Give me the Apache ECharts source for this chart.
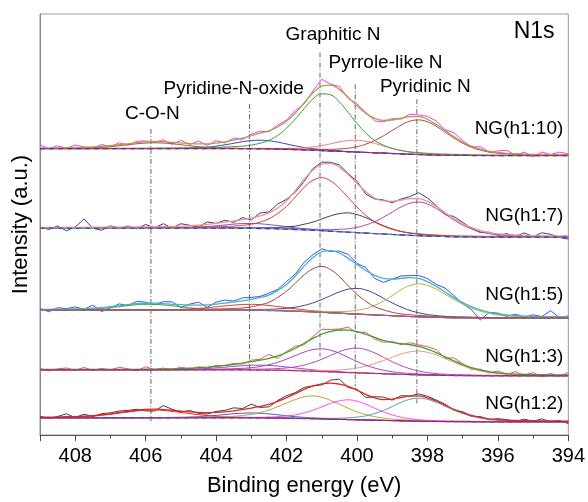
<!DOCTYPE html>
<html><head><meta charset="utf-8">
<script src="https://cdn.jsdelivr.net/npm/echarts/dist/echarts.min.js"></script>
<style>html,body{margin:0;padding:0;background:#fff}#c{width:588px;height:502px}</style>
</head><body><div id="c"></div>
<script>
// Binding energy grid (eV)
const energies = [409,408.75,408.5,408.25,408,407.75,407.5,407.25,407,406.75,406.5,406.25,406,405.75,405.5,405.25,405,404.75,404.5,404.25,404,403.75,403.5,403.25,403,402.75,402.5,402.25,402,401.75,401.5,401.25,401,400.75,400.5,400.25,400,399.75,399.5,399.25,399,398.75,398.5,398.25,398,397.75,397.5,397.25,397,396.75,396.5,396.25,396,395.75,395.5,395.25,395,394.75,394.5,394.25,394];

// ---- NG(h1:10) ----
const rawA = [10.7,7.2,9.8,7.5,10.6,8.9,7.3,11.3,9.0,13.0,10.5,14.6,14.9,13.3,16.1,11.5,15.4,11.2,14.8,10.3,15.1,12.9,17.7,16.3,21.7,24.7,24.1,30.9,35.9,45.6,52.2,65.5,77.1,72.2,69.9,57.8,52.3,43.8,35.1,34.1,37.5,36.8,41.9,41.0,39.7,35.0,26.4,23.2,15.3,8.6,9.1,3.5,4.8,5.4,0.4,3.6,-1.2,3.7,1.1,3.5,1.9];
const envA = [7.7,7.7,7.8,8.0,8.1,8.4,8.8,9.3,10.0,11.0,12.0,13.1,13.9,14.3,14.1,13.5,12.9,12.2,11.8,11.8,12.6,13.9,15.7,17.8,20.2,22.7,25.1,28.9,34.9,43.1,53.2,63.5,70.1,71.2,66.9,58.8,50.3,42.8,37.6,35.6,36.0,37.8,39.4,39.5,36.7,31.5,25.4,19.2,13.8,9.6,6.6,4.5,3.3,2.4,1.9,1.6,1.3,1.2,1.1,1.0,0.9];
const bgA = [7,7,7,7,7,7,7,7,7,7,7,7,7,7,7,7,7,7,7,7,7,7,7,6.9,6.9,6.8,6.7,6.5,6.3,6.0,5.7,5.4,5.0,4.6,4.3,3.9,3.5,3.2,2.8,2.5,2.1,1.8,1.4,1.1,0.8,0.6,0.4,0.3,0.2,0.1,0.1,0,0,0,0,0,0,0,0,0,0];
const graphA = [7.3,7.3,7.3,7.3,7.4,7.4,7.4,7.4,7.5,7.5,7.5,7.6,7.6,7.7,7.7,7.8,7.9,8.0,8.1,8.2,8.4,8.7,9.1,9.6,10.7,12.6,15.4,20.4,27.8,37.0,47.5,57.3,62.4,61.4,54.3,43.6,32.5,22.9,15.4,10.6,7.3,5.3,3.8,3.1,2.4,1.9,1.6,1.3,1.1,0.9,0.8,0.7,0.6,0.6,0.5,0.5,0.4,0.4,0.4,0.4,0.3];
const pyridA = [7.1,7.1,7.1,7.1,7.1,7.1,7.2,7.2,7.2,7.2,7.2,7.2,7.2,7.2,7.2,7.2,7.3,7.3,7.3,7.3,7.3,7.3,7.4,7.3,7.3,7.3,7.3,7.1,7.0,6.8,6.6,6.5,6.4,6.4,6.8,7.5,9.0,11.6,15.2,20.0,25.4,30.8,34.8,36.1,34.2,29.6,23.7,17.8,12.6,8.5,5.6,3.6,2.5,1.8,1.4,1.1,0.9,0.8,0.7,0.7,0.6];
const pyrrA = [7.1,7.1,7.1,7.1,7.1,7.1,7.1,7.1,7.1,7.1,7.1,7.1,7.1,7.1,7.1,7.1,7.2,7.2,7.2,7.2,7.2,7.2,7.2,7.2,7.2,7.2,7.2,7.1,7.2,7.4,7.9,8.9,10.2,11.9,13.9,15.2,15.5,14.5,12.4,9.8,7.3,5.3,3.6,2.5,1.7,1.2,0.9,0.7,0.5,0.4,0.4,0.3,0.3,0.2,0.2,0.2,0.2,0.1,0.1,0.1,0.1];
const oxA = [7.1,7.1,7.1,7.1,7.1,7.1,7.1,7.1,7.1,7.1,7.1,7.1,7.1,7.2,7.3,7.3,7.5,7.7,8.1,8.6,9.6,10.9,12.5,14.1,15.2,15.6,15.0,13.7,11.8,9.9,8.3,7.0,6.1,5.3,4.8,4.2,3.8,3.4,3.0,2.7,2.3,1.9,1.5,1.2,0.9,0.7,0.5,0.4,0.3,0.2,0.2,0.1,0.1,0.1,0.1,0.1,0.1,0.1,0.1,0.1,0.1];
const conA = [7.2,7.2,7.2,7.3,7.4,7.6,7.9,8.4,9.1,10.0,11.0,12.0,12.7,13.0,12.7,12.0,11.0,10.0,9.1,8.4,7.9,7.6,7.4,7.2,7.1,7.0,6.9,6.6,6.4,6.1,5.8,5.5,5.1,4.7,4.4,4.0,3.6,3.3,2.9,2.6,2.2,1.9,1.5,1.2,0.9,0.7,0.5,0.4,0.3,0.2,0.2,0.1,0.1,0.1,0.1,0.1,0.1,0.1,0.1,0.1,0.1];

// ---- NG(h1:7) ----
const rawB = [10.3,7.8,11.4,6.4,10.4,18.4,9.0,7.0,11.5,9.1,11.2,8.3,12.9,9.5,13.6,9.3,13.6,12.0,10.1,15.4,13.9,17.1,14.9,19.8,17.4,24.4,25.5,33.5,38.2,45.4,56.3,69.2,75.8,75.6,73.0,64.2,56.4,43.5,38.6,37.6,34.7,38.5,41.0,44.9,39.6,32.1,22.9,20.9,15.1,8.7,4.7,5.1,1.8,3.6,0.7,4.3,0.6,4.4,2.9,-0.3,-1.9];
const envB = [9.8,9.8,9.9,9.9,9.9,9.9,10.0,10.0,10.0,10.1,10.2,10.3,10.4,10.5,10.6,10.8,11.1,11.5,12.1,12.9,13.9,15.1,16.4,17.8,19.4,21.4,24.5,29.5,36.7,46.9,58.3,67.7,73.8,74.6,70.5,63.2,54.4,46.0,39.6,36.6,36.2,37.5,39.0,38.9,36.1,31.1,24.9,18.9,13.6,9.7,6.7,4.6,3.3,2.6,2.2,1.8,1.6,1.4,1.4,1.2,1.2];
const bgB = [9,9,9,9,9,9,9,9,9,9,9,9,9,9,9,9,9,9,9,9,9,9,9,8.9,8.8,8.7,8.6,8.4,8.1,7.7,7.4,6.9,6.5,5.9,5.5,5.0,4.5,4.1,3.6,3.2,2.7,2.3,1.8,1.5,1.1,0.8,0.6,0.4,0.3,0.2,0.1,0,0,0,0,0,0,0,0,0,0];
const graphB = [9.4,9.4,9.4,9.4,9.4,9.4,9.4,9.4,9.5,9.5,9.5,9.5,9.6,9.7,9.7,9.8,9.9,10.0,10.1,10.3,10.5,10.8,11.2,11.9,13.1,15.2,18.6,23.9,31.1,40.7,50.4,57.4,60.0,56.9,49.5,40.0,30.5,22.1,15.6,11.2,7.9,5.8,4.3,3.4,2.7,2.2,1.7,1.4,1.2,1.1,0.9,0.8,0.8,0.7,0.7,0.6,0.6,0.6,0.5,0.5,0.5];
const pyrrB = [9.1,9.1,9.1,9.1,9.1,9.1,9.1,9.1,9.1,9.1,9.2,9.2,9.2,9.2,9.2,9.2,9.2,9.3,9.3,9.3,9.3,9.4,9.5,9.4,9.4,9.5,9.6,9.9,10.4,11.2,13.1,15.3,18.4,21.5,23.8,24.5,22.8,19.7,15.5,11.6,8.4,5.8,4.1,3.0,2.1,1.6,1.2,0.9,0.7,0.6,0.5,0.4,0.3,0.3,0.3,0.2,0.2,0.2,0.2,0.2,0.2];
const pyridB = [9.3,9.3,9.3,9.3,9.3,9.3,9.3,9.3,9.4,9.4,9.4,9.4,9.4,9.4,9.4,9.4,9.5,9.5,9.5,9.5,9.6,9.6,9.6,9.5,9.5,9.4,9.3,9.2,9.0,8.6,8.4,8.0,7.9,7.6,7.9,8.5,9.9,12.3,15.6,20.2,25.3,30.5,34.2,35.5,33.5,29.0,23.2,17.4,12.3,8.4,5.5,3.5,2.4,1.7,1.4,1.1,0.9,0.8,0.7,0.7,0.6];
const oxB = [9.1,9.1,9.1,9.1,9.1,9.1,9.1,9.1,9.1,9.1,9.1,9.1,9.2,9.2,9.3,9.4,9.5,9.8,10.2,10.8,11.5,12.3,13.2,13.7,13.8,13.5,12.7,11.7,10.6,9.5,8.6,7.7,7.0,6.3,5.8,5.2,4.7,4.2,3.7,3.3,2.8,2.4,1.9,1.6,1.2,0.9,0.7,0.5,0.4,0.3,0.2,0.1,0.1,0.1,0.1,0.1,0.1,0.1,0.1,0.1,0.1];

// ---- NG(h1:5) ----
const rawC = [9.8,6.4,10.5,9.6,11.3,9.0,13.0,6.6,10.5,14.4,12.6,17.0,16.0,13.6,16.6,16.4,10.6,14.1,16.1,10.9,16.1,18.2,17.3,20.4,20.9,21.9,25.2,29.0,37.0,44.5,56.5,64.1,70.0,67.1,67.7,64.3,55.2,51.1,40.1,36.1,39.3,42.6,42.9,43.1,39.9,34.0,30.3,22.7,14.7,8.5,-2.0,5.8,5.1,1.7,4.0,1.1,3.3,1.6,7.5,0.4,2.3];
const envC = [8.8,8.9,9.0,9.1,9.3,9.5,10.0,10.6,11.5,12.4,13.6,14.5,15.0,15.1,14.6,13.9,13.6,13.1,13.1,13.4,14.1,15.2,16.3,17.4,18.9,20.9,23.2,28.0,34.0,42.5,52.5,61.1,67.0,68.1,65.7,60.3,54.2,48.1,43.1,40.1,39.3,40.1,40.9,40.1,36.9,32.0,26.3,20.7,15.7,11.5,8.2,5.8,4.1,3.2,2.5,2.1,1.8,1.6,1.5,1.4,1.3];
const bgC = [8,8,8,8,8,8,8,8,8,8,8,8,8,8,8,8,8,8,8,8,8,8,8,7.9,7.9,7.8,7.6,7.5,7.2,6.9,6.6,6.2,5.8,5.3,4.9,4.4,4.0,3.6,3.2,2.8,2.4,2.0,1.6,1.3,1.0,0.7,0.5,0.3,0.3,0.2,0.1,0,0,0,0,0,0,0,0,0,0];
const graphC = [8.3,8.3,8.3,8.3,8.3,8.3,8.3,8.4,8.4,8.4,8.4,8.4,8.5,8.5,8.6,8.6,8.7,8.8,8.9,9.0,9.2,9.4,9.8,10.2,11.4,13.4,16.0,21.0,27.2,35.2,43.7,49.8,52.2,48.9,42.0,32.7,24.0,17.1,11.6,8.4,5.9,4.3,3.4,2.7,2.2,1.7,1.4,1.1,1.0,0.8,0.7,0.6,0.5,0.5,0.4,0.4,0.4,0.4,0.3,0.3,0.3];
const pyrrC = [8.2,8.2,8.2,8.2,8.2,8.2,8.2,8.2,8.2,8.2,8.2,8.2,8.2,8.2,8.2,8.3,8.3,8.3,8.4,8.4,8.5,8.5,8.6,8.6,8.7,8.8,8.9,9.3,9.9,11.0,12.8,15.4,18.8,22.6,26.5,29.2,30.0,28.4,24.8,20.1,15.4,11.2,7.8,5.4,3.7,2.5,1.8,1.3,1.1,0.9,0.7,0.6,0.5,0.5,0.4,0.4,0.4,0.4,0.3,0.3,0.3];
const pyridC = [8.2,8.2,8.2,8.2,8.2,8.2,8.2,8.2,8.2,8.2,8.3,8.3,8.3,8.3,8.3,8.3,8.3,8.3,8.3,8.3,8.3,8.3,8.3,8.3,8.3,8.2,8.1,8.0,7.8,7.6,7.4,7.0,6.8,6.6,6.6,6.9,8.0,9.6,12.9,17.1,22.7,28.6,32.9,34.6,33.0,29.2,24.1,18.9,14.2,10.2,7.0,4.7,3.2,2.3,1.7,1.3,1.1,0.9,0.8,0.8,0.7];
const oxC = [8.1,8.1,8.1,8.1,8.1,8.1,8.1,8.1,8.1,8.1,8.1,8.2,8.2,8.3,8.3,8.4,8.8,9.2,9.8,10.5,11.4,12.3,13.1,13.7,13.9,13.5,12.7,11.7,10.6,9.4,8.4,7.4,6.6,5.9,5.3,4.7,4.2,3.8,3.4,2.9,2.5,2.1,1.7,1.4,1.0,0.8,0.6,0.4,0.3,0.2,0.2,0.1,0.1,0.1,0.1,0.1,0.1,0.1,0.1,0.1,0.1];
const conC = [8.2,8.2,8.3,8.4,8.5,8.8,9.2,9.8,10.6,11.5,12.6,13.5,13.9,13.9,13.3,12.4,11.4,10.4,9.7,9.1,8.7,8.5,8.4,8.2,8.1,7.9,7.8,7.6,7.3,7.0,6.6,6.2,5.8,5.4,5.0,4.5,4.1,3.6,3.2,2.8,2.4,2.0,1.6,1.3,1.0,0.7,0.5,0.3,0.3,0.2,0.1,0,0,0,0,0,0,0,0,0,0];

// ---- NG(h1:3) ----
const rawD = [7.5,5.0,7.0,8.0,5.5,8.5,5.5,7.5,6.1,8.6,7.1,5.1,9.2,6.3,7.9,6.1,8.9,6.7,9.2,7.8,10.5,10.5,12.6,11.9,15.8,16.8,21.7,17.7,24.6,29.9,31.4,39.8,47.0,46.8,47.3,49.1,43.7,44.0,37.3,33.9,34.7,31.5,33.4,31.3,29.5,26.4,18.1,18.1,12.4,6.4,6.9,2.8,5.0,1.3,4.3,0.5,3.3,-0.8,2.5,-0.5,3.4];
const envD = [6.5,6.5,6.5,6.5,6.5,6.5,6.5,6.5,6.6,6.6,6.6,6.6,6.7,6.8,6.9,7.1,7.4,7.7,8.2,8.8,9.5,10.5,11.6,12.9,14.3,15.8,17.7,20.2,23.6,27.9,32.9,37.8,42.0,44.8,46.3,46.1,44.7,42.0,38.8,35.9,33.7,32.5,31.4,29.8,27.0,23.4,19.1,15.1,11.4,8.4,5.9,4.3,3.0,2.3,1.8,1.5,1.3,1.2,1.0,1.0,0.9];
const bgD = [6,6,6,6,6,6,6,6,6,6,6,6,6,6,6,6,6,6,6,6,6,6,6,6.0,5.9,5.8,5.7,5.6,5.4,5.2,4.9,4.6,4.3,4.0,3.7,3.3,3.0,2.7,2.4,2.1,1.8,1.5,1.2,1.0,0.7,0.6,0.4,0.3,0.2,0.1,0.1,0,0,0,0,0,0,0,0,0,0];
const graphD = [6.2,6.2,6.2,6.2,6.2,6.2,6.2,6.2,6.2,6.2,6.2,6.2,6.2,6.2,6.3,6.3,6.4,6.5,6.5,6.6,6.7,6.9,7.2,7.6,8.3,9.4,11.2,13.7,16.9,20.5,24.0,26.5,27.3,25.9,22.8,18.6,14.5,10.8,7.9,5.7,4.2,3.1,2.4,1.9,1.4,1.2,0.9,0.7,0.6,0.5,0.4,0.4,0.3,0.3,0.3,0.2,0.2,0.2,0.2,0.2,0.2];
const pyrrD = [6.2,6.2,6.2,6.2,6.2,6.2,6.2,6.2,6.2,6.2,6.2,6.2,6.2,6.2,6.2,6.2,6.3,6.3,6.4,6.4,6.5,6.5,6.6,6.6,6.7,6.8,7.0,7.4,8.0,9.1,10.9,13.5,16.8,20.6,24.4,27.1,28.0,26.5,23.2,18.8,14.3,10.4,7.2,4.9,3.3,2.3,1.6,1.3,1.0,0.8,0.6,0.5,0.5,0.4,0.4,0.3,0.3,0.3,0.3,0.2,0.2];
const pyridD = [6.1,6.1,6.1,6.1,6.1,6.1,6.1,6.1,6.1,6.1,6.1,6.1,6.1,6.1,6.1,6.1,6.2,6.2,6.2,6.2,6.3,6.3,6.3,6.3,6.3,6.2,6.2,6.1,6.0,5.8,5.7,5.6,5.5,5.6,6.0,6.7,7.9,9.9,12.4,15.5,18.8,22.0,24.2,25.0,23.7,21.1,17.4,13.7,10.2,7.3,5.0,3.4,2.3,1.6,1.2,1.0,0.8,0.7,0.6,0.5,0.5];
const oxD = [6.0,6.0,6.0,6.0,6.0,6.1,6.1,6.1,6.1,6.1,6.1,6.1,6.2,6.2,6.3,6.3,6.5,6.7,7.0,7.5,8.1,8.8,9.6,10.2,10.7,10.8,10.5,9.9,9.0,8.0,7.0,6.1,5.3,4.7,4.1,3.6,3.3,2.9,2.6,2.2,1.9,1.6,1.3,1.0,0.8,0.6,0.4,0.3,0.3,0.2,0.1,0.1,0.1,0.1,0.1,0.1,0.1,0.1,0.1,0.1,0.1];

// ---- NG(h1:2) ----
const rawE = [5.7,3.3,5.4,8.1,4.3,7.7,5.3,8.2,9.1,10.9,11.5,12.7,11.0,10.8,16.4,12.7,9.8,11.5,8.5,7.8,10.5,11.6,14.1,13.4,17.8,14.5,15.1,21.6,26.4,29.5,34.8,36.2,37.3,42.1,43.0,34.7,32.9,24.6,25.3,25.0,21.9,26.4,26.0,28.2,25.8,22.0,17.8,11.7,10.2,5.4,5.4,2.0,3.2,2.2,0.4,2.7,0.6,3.0,-0.1,1.3,-1.8];
const envE = [4.7,4.8,4.9,5.1,5.3,5.7,6.3,7.2,8.1,9.4,10.5,11.7,12.5,12.8,12.4,11.7,10.8,10.0,9.5,9.3,9.5,10.1,11.1,12.4,13.8,15.5,17.6,20.6,24.4,28.5,32.8,36.2,38.3,39.1,38.0,35.7,31.9,27.6,24.3,22.5,22.9,24.4,26.0,26.2,24.3,21.0,16.8,12.7,9.2,6.4,4.4,3.0,2.2,1.7,1.4,1.2,1.1,1.0,0.9,0.8,0.7];
const bgE = [4,4,4,4,4,4,4,4,4,4,4,4,4,4,4,4,4,4,4,4,4,4,4,4.0,3.9,3.9,3.8,3.7,3.6,3.4,3.3,3.1,2.9,2.6,2.4,2.2,2.0,1.8,1.6,1.4,1.2,1.0,0.8,0.6,0.5,0.4,0.2,0.2,0.1,0.1,0,0,0,0,0,0,0,0,0,0,0];
const graphE = [4.2,4.2,4.2,4.2,4.2,4.2,4.2,4.2,4.2,4.2,4.2,4.2,4.3,4.3,4.3,4.4,4.5,4.5,4.6,4.7,4.9,5.2,5.6,6.4,7.5,9.4,11.9,15.2,18.9,22.5,25.2,26.1,24.8,21.7,17.7,13.7,10.1,7.3,5.2,3.8,2.8,2.2,1.7,1.4,1.1,0.9,0.7,0.6,0.5,0.4,0.4,0.3,0.3,0.3,0.2,0.2,0.2,0.2,0.2,0.2,0.2];
const pyrrE = [4.1,4.1,4.1,4.1,4.1,4.1,4.1,4.1,4.1,4.1,4.1,4.1,4.1,4.1,4.1,4.2,4.2,4.2,4.3,4.3,4.3,4.4,4.4,4.5,4.5,4.6,4.8,5.2,6.0,7.0,9.1,11.7,15.1,18.6,21.2,22.2,20.8,17.8,13.8,10.0,7.0,4.6,3.2,2.1,1.5,1.1,0.9,0.7,0.6,0.5,0.4,0.3,0.3,0.3,0.3,0.2,0.2,0.2,0.2,0.2,0.2];
const pyridE = [4.1,4.1,4.1,4.1,4.1,4.1,4.1,4.1,4.1,4.1,4.1,4.1,4.1,4.1,4.1,4.2,4.2,4.2,4.2,4.2,4.2,4.2,4.2,4.2,4.2,4.2,4.1,4.1,4.0,3.9,3.8,3.7,3.6,3.5,3.6,4.0,4.8,6.0,8.4,11.4,15.4,19.6,22.7,23.9,22.7,19.7,15.7,11.8,8.4,5.7,3.7,2.4,1.6,1.2,0.9,0.7,0.6,0.5,0.5,0.5,0.4];
const oxE = [4.1,4.1,4.1,4.1,4.1,4.1,4.1,4.1,4.1,4.1,4.1,4.1,4.2,4.2,4.3,4.4,4.5,4.8,5.2,5.8,6.5,7.3,8.2,8.7,8.9,8.7,8.0,7.1,6.1,5.2,4.5,3.9,3.4,3.0,2.7,2.4,2.2,1.9,1.7,1.5,1.3,1.1,0.9,0.7,0.5,0.4,0.3,0.2,0.2,0.1,0.1,0.1,0.1,0.1,0.1,0.1,0.1,0.1,0.1,0.1,0.1];
const conE = [4.3,4.3,4.4,4.6,4.8,5.2,5.8,6.6,7.6,8.8,9.9,11.0,11.8,12.0,11.5,10.6,9.4,8.3,7.2,6.3,5.6,5.0,4.7,4.5,4.3,4.2,4.1,3.9,3.8,3.6,3.4,3.2,3.0,2.8,2.5,2.3,2.1,1.9,1.7,1.5,1.3,1.1,0.9,0.7,0.6,0.4,0.3,0.2,0.2,0.1,0.1,0.1,0,0,0,0,0,0,0,0,0];

// Reference lines (eV) and their vertical extents (intensity units)
const refNames = ['C-O-N','Pyridine-N-oxide','Graphitic N','Pyrrole-like N','Pyridinic N'];
const refEnergy = [405.85, 403.05, 401.05, 400.05, 398.3];
const refTop = [309, 334, 386, 354, 339];
const refBottom = [14, 66, 79, 49, 32];
const refLabelE = [405.81, 403.5, 400.68, 399.19, 398.06];
const refLabelY = [324, 350, 404, 376, 352];

const sampleNames = ['NG(h1:10)','NG(h1:7)','NG(h1:5)','NG(h1:3)','NG(h1:2)'];
const sampleOffsets = [282, 199.7, 118, 59.7, 13.3];
const sampleLabelY = [309, 221, 142, 79, 32];
const xTickLabels = [394,396,398,400,402,404,406,408];

const spectra = [
  {raw: rawA, env: envA, bg: bgA, rawColor:'#ff33ff', envColor:'#a9a244', bgColors:['#ff2a2a','#3a3ac8'],
   comps:[[conA,'#b84040'],[oxA,'#3c3cb4'],[pyrrA,'#f27b78'],[pyridA,'#a34a4a'],[graphA,'#3a9c3a']]},
  {raw: rawB, env: envB, bg: bgB, rawColor:'#3a3aa0', envColor:'#f29482', bgColors:['#ff2a2a','#4cc4c4','#3a3ac8'],
   comps:[[oxB,'#5a5ae6'],[pyrrB,'#3c3c3c'],[pyridB,'#a745b5'],[graphB,'#e83232']]},
  {raw: rawC, env: envC, bg: bgC, rawColor:'#3355ff', envColor:'#48b4b4', bgColors:['#ff2a2a','#3aa03a','#d040d0'],
   comps:[[conC,'#3aa03a'],[oxC,'#e83232'],[pyrrC,'#3e3e92'],[pyridC,'#b3b043'],[graphC,'#a34444']]},
  {raw: rawD, env: envD, bg: bgD, rawColor:'#ff5050', envColor:'#34a234', bgColors:['#a82222','#a040c0'],
   comps:[[oxD,'#9844c4'],[pyrrD,'#a645c2'],[pyridD,'#f29482'],[graphD,'#a040be']]},
  {raw: rawE, env: envE, bg: bgE, rawColor:'#404040', envColor:'#e82222', bgColors:['#2a2ac8','#e82222'],
   comps:[[conE,'#e82222'],[oxE,'#5a4ad0'],[graphE,'#b3a535'],[pyrrE,'#ff44ff'],[pyridE,'#44a4aa']]}
];

function pts(arr, off){ return arr.map((v,i)=>[energies[i], off+v]); }

const series = [];
spectra.forEach((s, k) => {
  const off = sampleOffsets[k];
  series.push({type:'line', data: pts(s.raw, off), symbol:'none', lineStyle:{color:s.rawColor, width:1}, z:2, silent:true});
  s.comps.forEach(c => {
    series.push({type:'line', data: pts(c[0], off), symbol:'none', smooth:0.4, lineStyle:{color:c[1], width:1}, z:3, silent:true});
  });
  series.push({type:'line', data: pts(s.env, off), symbol:'none', smooth:0.4, lineStyle:{color:s.envColor, width:1.3}, z:4, silent:true});
  s.bgColors.forEach((col, j) => {
    const dashed = j === s.bgColors.length - 1;
    series.push({type:'line', data: pts(s.bg, off), symbol:'none', smooth:0.4, silent:true,
      lineStyle:{color: col, width: dashed ? 1.2 : 1, type: dashed ? [5,4] : 'solid'}, z:5});
  });
});

refEnergy.forEach((e, i) => {
  series.push({type:'line', data:[[e, refTop[i]],[e, refBottom[i]]], symbol:'none', silent:true,
    lineStyle:{color:'#666', width:1, type:[5,2,1,2]}, z:1});
});

const FONT = 'Liberation Sans, Arial, sans-serif';
function textLabel(pos, size){
  return {show:true, position:pos, distance:0, formatter:p=>p.name, fontSize:size,
    fontFamily:FONT, color:'#000', opacity:1, textBorderWidth:0, textShadowBlur:0};
}
series.push({type:'scatter', symbolSize:0.1, itemStyle:{color:'#000', opacity:1}, z:10, silent:true,
  data: refNames.map((n,i)=>({value:[refLabelE[i], refLabelY[i]], name:n})),
  label: textLabel('inside', 19)});
series.push({type:'scatter', symbolSize:0.1, itemStyle:{color:'#000', opacity:1}, z:10, silent:true,
  data: sampleNames.map((n,i)=>({value:[394.14, sampleLabelY[i]], name:n})),
  label: textLabel('left', 19)});
series.push({type:'scatter', symbolSize:0.1, itemStyle:{color:'#000', opacity:1}, z:10, silent:true,
  data: [{value:[394.97, 407], name:'N1s'}],
  label: textLabel('inside', 23)});

const chart = echarts.init(document.getElementById('c'), null, {renderer:'canvas'});
chart.setOption({
  animation:false,
  backgroundColor:'#fff',
  grid:{left:40, right:16, top:14, bottom:63, show:true, borderColor:'#9a9a9a', borderWidth:1, backgroundColor:'transparent'},
  xAxis:[{
    type:'value', inverse:true, min:394, max:409, interval:2,
    name:'Binding energy (eV)', nameLocation:'middle', nameGap:40,
    nameTextStyle:{fontSize:22, fontFamily:FONT, color:'#000'},
    axisLine:{show:true, lineStyle:{color:'#555', width:1}},
    axisTick:{show:true, length:6, lineStyle:{color:'#444'}},
    axisLabel:{fontSize:20, margin:11, fontFamily:FONT, color:'#000', formatter:v => xTickLabels.includes(v) ? String(v) : ''},
    splitLine:{show:false}
  },{
    type:'value', inverse:true, min:394, max:409, interval:1, position:'bottom',
    axisLine:{show:false}, axisTick:{show:true, length:3.5, lineStyle:{color:'#444'}},
    axisLabel:{show:false}, splitLine:{show:false}
  }],
  yAxis:{
    type:'value', min:0, max:425,
    name:'Intensity (a.u.)', nameLocation:'middle', nameGap:8, nameTextStyle:{fontSize:22, fontFamily:FONT, color:'#000'},
    axisLine:{show:true, lineStyle:{color:'#888'}}, axisTick:{show:false}, axisLabel:{show:false}, splitLine:{show:false}
  },
  series: series
});
</script></body></html>
